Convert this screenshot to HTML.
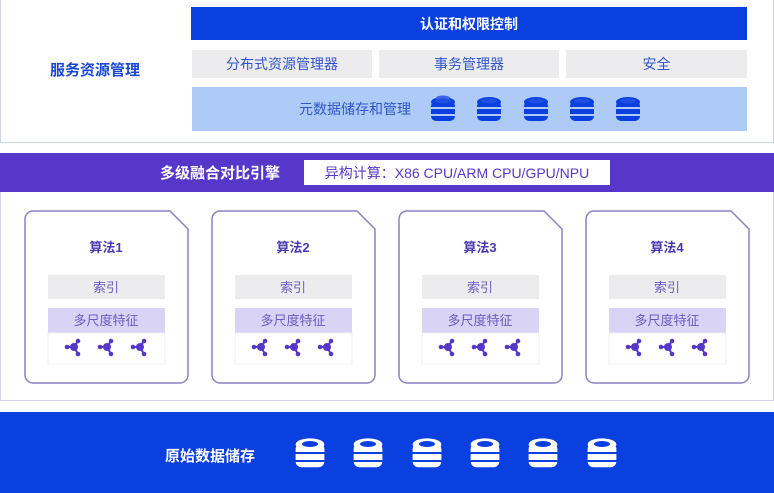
<!DOCTYPE html>
<html><head><meta charset="utf-8"><style>
body{margin:0;width:774px;height:493px;background:#fff;position:relative;overflow:hidden;font-family:"Liberation Sans","Noto Sans CJK SC",sans-serif}
.a{position:absolute;display:flex;align-items:center;justify-content:center;box-sizing:border-box}
</style></head><body>
<div class="a" style="left:0;top:-2px;width:774px;height:145px;border:1px solid #c9d6ea;border-top:none"></div>
<div class="a" style="left:20px;top:55px;width:150px;height:28px;color:#1a47d6;font-weight:bold;font-size:15px">服务资源管理</div>
<div class="a" style="left:191px;top:7px;width:556px;height:33px;background:#0a3fe0;color:#fff;font-weight:bold;font-size:14px">认证和权限控制</div>
<div class="a" style="left:192px;top:50px;width:180px;height:28px;background:#ececee;color:#2f56c9;font-size:14px">分布式资源管理器</div>
<div class="a" style="left:379px;top:50px;width:180px;height:28px;background:#ececee;color:#2f56c9;font-size:14px">事务管理器</div>
<div class="a" style="left:566px;top:50px;width:181px;height:28px;background:#ececee;color:#2f56c9;font-size:14px">安全</div>
<div class="a" style="left:192px;top:87px;width:555px;height:44px;background:#aecbf7"></div>
<div class="a" style="left:290px;top:97px;width:130px;height:24px;color:#2f56c9;font-size:14px">元数据储存和管理</div>
<div class="a" style="left:0;top:153px;width:774px;height:39px;background:#5737c9"></div>
<div class="a" style="left:140px;top:160px;width:160px;height:25px;color:#fff;font-weight:bold;font-size:15px">多级融合对比引擎</div>
<div class="a" style="left:304px;top:160px;width:306px;height:25px;background:#fff;color:#5737c9;font-size:14px">异构计算：X86 CPU/ARM CPU/GPU/NPU</div>
<div class="a" style="left:0;top:192px;width:774px;height:209px;border:1px solid #d6d3ee;border-top:none"></div>
<div class="a" style="left:0;top:412px;width:774px;height:81px;background:#0a3fe0"></div>
<div class="a" style="left:150px;top:443px;width:120px;height:24px;color:#fff;font-weight:bold;font-size:15px">原始数据储存</div>
<svg width="774" height="493" style="position:absolute;left:0;top:0">
<defs>
<g id="db"><rect x="-12" y="-9" width="24" height="20" rx="5"/><ellipse cx="0" cy="-8" rx="12" ry="5"/></g>
<g id="nd"><line x1="-7" y1="0" x2="0" y2="0" stroke="#5737c9" stroke-width="2"/><line x1="0" y1="0" x2="4" y2="-6" stroke="#5737c9" stroke-width="2"/><line x1="0" y1="0" x2="4" y2="7" stroke="#5737c9" stroke-width="2"/><circle r="4" fill="#5737c9"/><circle cx="-7" r="2.3" fill="#5737c9"/><circle cx="4" cy="-6" r="2.3" fill="#5737c9"/><circle cx="4" cy="7" r="2.3" fill="#5737c9"/></g>
</defs>
<g fill="#0a3fe0">
<g transform="translate(443,110)"><use href="#db"/></g><g transform="translate(489,110)"><use href="#db"/></g><g transform="translate(536,110)"><use href="#db"/></g><g transform="translate(582,110)"><use href="#db"/></g><g transform="translate(628,110)"><use href="#db"/></g>
</g>
<g stroke="#aecbf7" stroke-width="2"><line x1="425" y1="108" x2="650" y2="108"/><line x1="425" y1="115" x2="650" y2="115"/></g>
<g fill="#3b64e8"><ellipse cx="443" cy="-2" rx="7" ry="2.5" transform="translate(0,100)"/></g>
<g transform="translate(0,-1)">
<g fill="#fff">
<g transform="translate(310,455) scale(1.2)"><use href="#db"/></g><g transform="translate(368,455) scale(1.2)"><use href="#db"/></g><g transform="translate(427,455) scale(1.2)"><use href="#db"/></g><g transform="translate(485,455) scale(1.2)"><use href="#db"/></g><g transform="translate(543,455) scale(1.2)"><use href="#db"/></g><g transform="translate(602,455) scale(1.2)"><use href="#db"/></g>
</g>
<g stroke="#0a3fe0" stroke-width="2"><line x1="290" y1="454" x2="625" y2="454"/><line x1="290" y1="462" x2="625" y2="462"/></g>
<g fill="#0a3fe0"><ellipse cx="310" cy="445" rx="8" ry="3"/><ellipse cx="368" cy="445" rx="8" ry="3"/><ellipse cx="427" cy="445" rx="8" ry="3"/><ellipse cx="485" cy="445" rx="8" ry="3"/><ellipse cx="543" cy="445" rx="8" ry="3"/><ellipse cx="602" cy="445" rx="8" ry="3"/></g>
</g>
<g fill="#1f4fe0"><ellipse cx="443" cy="101" rx="8" ry="2.5"/><ellipse cx="489" cy="101" rx="8" ry="2.5"/><ellipse cx="536" cy="101" rx="8" ry="2.5"/><ellipse cx="582" cy="101" rx="8" ry="2.5"/><ellipse cx="628" cy="101" rx="8" ry="2.5"/></g>
<g id="cards"></g>
</svg>
<div id="c"></div>
<svg width="774" height="493" style="position:absolute;left:0;top:0">
<g fill="#fff" stroke="#8a80c4" stroke-width="1.5">
<path d="M33,211 H170 L188,229 V375 a8,8 0 0 1 -8,8 H33 a8,8 0 0 1 -8,-8 V219 a8,8 0 0 1 8,-8Z"/>
<path d="M220,211 H357 L375,229 V375 a8,8 0 0 1 -8,8 H220 a8,8 0 0 1 -8,-8 V219 a8,8 0 0 1 8,-8Z"/>
<path d="M407,211 H544 L562,229 V375 a8,8 0 0 1 -8,8 H407 a8,8 0 0 1 -8,-8 V219 a8,8 0 0 1 8,-8Z"/>
<path d="M594,211 H731 L749,229 V375 a8,8 0 0 1 -8,8 H594 a8,8 0 0 1 -8,-8 V219 a8,8 0 0 1 8,-8Z"/>
</g>
<g font-family="Liberation Sans, Noto Sans CJK SC, sans-serif" text-anchor="middle">
<g font-size="13" font-weight="bold" fill="#4a3ab0">
<text x="106" y="252">算法1</text><text x="293" y="252">算法2</text><text x="480" y="252">算法3</text><text x="667" y="252">算法4</text></g>
</g>
<g fill="#ececee"><rect x="48" y="275" width="117" height="24"/><rect x="235" y="275" width="117" height="24"/><rect x="422" y="275" width="117" height="24"/><rect x="609" y="275" width="117" height="24"/></g>
<g fill="#d9d3f6"><rect x="48" y="308" width="117" height="25"/><rect x="235" y="308" width="117" height="25"/><rect x="422" y="308" width="117" height="25"/><rect x="609" y="308" width="117" height="25"/></g>
<g fill="#fff" stroke="#f0eff5"><rect x="48" y="333" width="117" height="31"/><rect x="235" y="333" width="117" height="31"/><rect x="422" y="333" width="117" height="31"/><rect x="609" y="333" width="117" height="31"/></g>
<g font-family="Liberation Sans, Noto Sans CJK SC, sans-serif" text-anchor="middle" font-size="13" fill="#6a5cc0">
<text x="106" y="292">索引</text><text x="293" y="292">索引</text><text x="480" y="292">索引</text><text x="667" y="292">索引</text>
<text x="106" y="325">多尺度特征</text><text x="293" y="325">多尺度特征</text><text x="480" y="325">多尺度特征</text><text x="667" y="325">多尺度特征</text></g>
<g>
<use href="#nd" x="74" y="347"/><use href="#nd" x="107" y="347"/><use href="#nd" x="140" y="347"/>
<use href="#nd" x="261" y="347"/><use href="#nd" x="294" y="347"/><use href="#nd" x="327" y="347"/>
<use href="#nd" x="448" y="347"/><use href="#nd" x="481" y="347"/><use href="#nd" x="514" y="347"/>
<use href="#nd" x="635" y="347"/><use href="#nd" x="668" y="347"/><use href="#nd" x="701" y="347"/>
</g>
</svg>
</body></html>
